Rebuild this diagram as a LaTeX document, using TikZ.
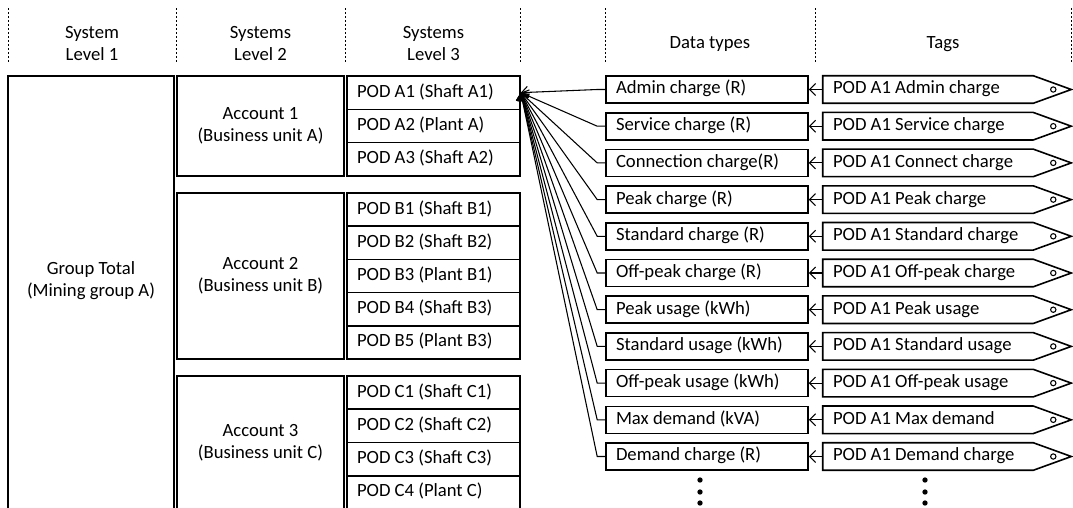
\documentclass[tikz,border=0pt]{standalone}
\usepackage{fontspec}
\setmainfont{Carlito}
\usetikzlibrary{arrows.meta,calc}
\tikzset{
  txt/.style={font=\fontsize{14}{16.5}\selectfont},
  hdr/.style={txt, align=center, inner sep=0pt},
  sep/.style={line width=0.6pt, dash pattern=on 1.5pt off 1.5pt},
  bigbox/.style={draw, line width=1.3pt, inner sep=0pt},
  podbox/.style={draw, line width=1.2pt, txt, inner xsep=7.5pt, inner ysep=0pt,
     minimum width=173*0.75pt},
  databox/.style={draw, line width=1.2pt, txt, inner xsep=7.5pt, inner ysep=0pt,
     minimum width=202*0.75pt, minimum height=27*0.75pt},
  tagbox/.style={txt, inner xsep=7.5pt, inner ysep=0pt,
     minimum width=210*0.75pt, minimum height=27*0.75pt},
  tagline/.style={line width=1.2pt, line join=miter},
  conn/.style={line width=0.8pt, -{Straight Barb[length=4.5pt,width=9pt,line width=0.8pt]}},
}
\newcommand{\podtxt}[1]{\makebox[114.75pt][l]{\strut #1}}
\newcommand{\datatxt}[1]{\makebox[136.5pt][l]{\strut #1}}
\newcommand{\tagtxt}[1]{\makebox[142.5pt][l]{\strut #1}}
\begin{document}
\begin{tikzpicture}[x=0.75pt,y=-0.75pt]
\useasboundingbox (0,0) rectangle (1073,507);
\clip (0,0) rectangle (1073,507);
\fill[white] (0,0) rectangle (1073,507);
% separators
\foreach \x in {8,176,345,520,605,815,1071}{
  \draw[sep] (\x,8) -- (\x,64);
}
% headers
\node[hdr] (h1) at (92,44) {System\\Level 1};
\node[hdr] (h2) at (260.5,44) {Systems\\Level 2};
\node[hdr] (h3) at (433.5,44) {Systems\\Level 3};
\node[hdr] (h4) at (710,44) {Data types};
\node[hdr] (h5) at (943,44) {Tags};
% level 1
\node[bigbox, minimum width=166*0.75pt, minimum height=450*0.75pt] (g) at (91,301) {};
\node[hdr] (gt) at (91,281) {Group Total\\(Mining group A)};
% level 2
\node[bigbox, minimum width=167*0.75pt, minimum height=100*0.75pt, hdr] (acc1) at (260.5,126) {Account 1\\(Business unit A)};
\node[bigbox, minimum width=167*0.75pt, minimum height=166*0.75pt, hdr] (acc2) at (260.5,276) {Account 2\\(Business unit B)};
\node[bigbox, minimum width=167*0.75pt, minimum height=133*0.75pt, hdr] (acc3) at (260.5,442.5) {Account 3\\(Business unit C)};
% level 3
\node[podbox, minimum height=33.33*0.75pt] (a1) at (433.5,92.67) {\podtxt{POD A1 (Shaft A1)}};
\node[podbox, minimum height=33.33*0.75pt] (a2) at (433.5,126) {\podtxt{POD A2 (Plant A)}};
\node[podbox, minimum height=33.33*0.75pt] (a3) at (433.5,159.33) {\podtxt{POD A3 (Shaft A2)}};
\node[podbox, minimum height=33.2*0.75pt] (b1) at (433.5,209.6) {\podtxt{POD B1 (Shaft B1)}};
\node[podbox, minimum height=33.2*0.75pt] (b2) at (433.5,242.8) {\podtxt{POD B2 (Shaft B2)}};
\node[podbox, minimum height=33.2*0.75pt] (b3) at (433.5,276) {\podtxt{POD B3 (Plant B1)}};
\node[podbox, minimum height=33.2*0.75pt] (b4) at (433.5,309.2) {\podtxt{POD B4 (Shaft B3)}};
\node[podbox, minimum height=33.2*0.75pt] (b5) at (433.5,342.4) {\podtxt{POD B5 (Plant B3)}};
\node[podbox, minimum height=33.25*0.75pt] (c1) at (433.5,392.6) {\podtxt{POD C1 (Shaft C1)}};
\node[podbox, minimum height=33.25*0.75pt] (c2) at (433.5,425.9) {\podtxt{POD C2 (Shaft C2)}};
\node[podbox, minimum height=33.25*0.75pt] (c3) at (433.5,459.1) {\podtxt{POD C3 (Shaft C3)}};
\node[podbox, minimum height=33.25*0.75pt] (c4) at (433.5,492.4) {\podtxt{POD C4 (Plant C)}};
% data types and tags
\foreach \i/\d/\t in {
  0/Admin charge (R)/POD A1 Admin charge,
  1/Service charge (R)/POD A1 Service charge,
  2/Connection charge(R)/POD A1 Connect charge,
  3/Peak charge (R)/POD A1 Peak charge,
  4/Standard charge (R)/POD A1 Standard charge,
  5/Off-peak charge (R)/POD A1 Off-peak charge,
  6/Peak usage (kWh)/POD A1 Peak usage,
  7/Standard usage (kWh)/POD A1 Standard usage,
  8/Off-peak usage (kWh)/POD A1 Off-peak usage,
  9/Max demand (kVA)/POD A1 Max demand,
  10/Demand charge (R)/POD A1 Demand charge}{
  \node[databox] (d\i) at (707,{89.5+36.7*\i}) {\datatxt{\d}};
  \node[tagbox] (t\i) at (928,{89.5+36.7*\i}) {\tagtxt{\t}};
  \draw[tagline] (t\i.north west) -- (t\i.north east) -- ($(t\i.east)+(38,0)$)
     -- (t\i.south east) -- (t\i.south west) -- cycle;
  \draw[line width=0.8pt] ($(t\i.east)+(20,0)$) circle (2pt);
  \draw[conn] (t\i.west) -- (d\i.east);
  \draw[conn] (d\i.west) -- ++(-8,0) -- (a1.east);
}
% continuation dots
\foreach \y in {480,492,503}{
  \fill (700,\y) circle (2pt);
  \fill (925,\y) circle (2pt);
}
\end{tikzpicture}
\end{document}
